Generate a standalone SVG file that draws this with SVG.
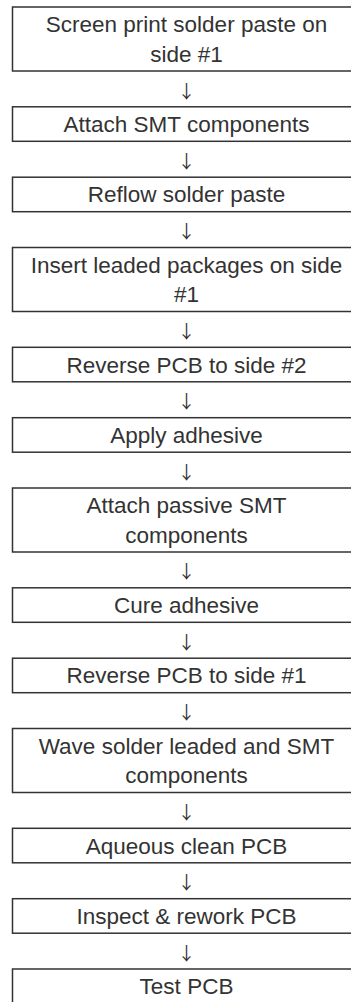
<svg xmlns="http://www.w3.org/2000/svg" width="351" height="1002" viewBox="0 0 351 1002">
<style>
.box{fill:#fff;stroke:#333;stroke-width:1.5}
.t{font-family:"Liberation Sans",Arial,sans-serif;font-size:22.5px;fill:#333;text-anchor:middle}
.a{font-family:"Noto Sans CJK SC","Liberation Sans",sans-serif;font-size:18px;fill:#333;text-anchor:middle}
</style>
<rect width="351" height="1002" fill="#fff"/>
<g id="connectors">
<text class="a" x="186.5" y="97.5">↓</text>
<text class="a" x="186.5" y="167.7">↓</text>
<text class="a" x="186.5" y="238">↓</text>
<text class="a" x="186.5" y="337.8">↓</text>
<text class="a" x="186.5" y="408.2">↓</text>
<text class="a" x="186.5" y="478.5">↓</text>
<text class="a" x="186.5" y="578.3">↓</text>
<text class="a" x="186.5" y="648.7">↓</text>
<text class="a" x="186.5" y="719">↓</text>
<text class="a" x="186.5" y="818.8">↓</text>
<text class="a" x="186.5" y="889.2">↓</text>
<text class="a" x="186.5" y="959.5">↓</text>
</g>
<g id="n1"><rect class="box" x="12.5" y="7" width="349" height="64"/><text class="t" x="186.5" y="32.3">Screen print solder paste on</text><text class="t" x="186.5" y="61.8">side #1</text></g>
<g id="n2"><rect class="box" x="12.5" y="106.8" width="349" height="34.5"/><text class="t" x="186.5" y="132">Attach SMT components</text></g>
<g id="n3"><rect class="box" x="12.5" y="177.2" width="349" height="34.5"/><text class="t" x="186.5" y="202.4">Reflow solder paste</text></g>
<g id="n4"><rect class="box" x="12.5" y="247.5" width="349" height="64"/><text class="t" x="186.5" y="272.8">Insert leaded packages on side</text><text class="t" x="186.5" y="302.3">#1</text></g>
<g id="n5"><rect class="box" x="12.5" y="347.3" width="349" height="34.5"/><text class="t" x="186.5" y="372.5">Reverse PCB to side #2</text></g>
<g id="n6"><rect class="box" x="12.5" y="417.7" width="349" height="34.5"/><text class="t" x="186.5" y="442.9">Apply adhesive</text></g>
<g id="n7"><rect class="box" x="12.5" y="488" width="349" height="64"/><text class="t" x="186.5" y="513.3">Attach passive SMT</text><text class="t" x="186.5" y="542.8">components</text></g>
<g id="n8"><rect class="box" x="12.5" y="587.8" width="349" height="34.5"/><text class="t" x="186.5" y="613">Cure adhesive</text></g>
<g id="n9"><rect class="box" x="12.5" y="658.2" width="349" height="34.5"/><text class="t" x="186.5" y="683.4">Reverse PCB to side #1</text></g>
<g id="n10"><rect class="box" x="12.5" y="728.5" width="349" height="64"/><text class="t" x="186.5" y="753.8">Wave solder leaded and SMT</text><text class="t" x="186.5" y="783.3">components</text></g>
<g id="n11"><rect class="box" x="12.5" y="828.3" width="349" height="34.5"/><text class="t" x="186.5" y="853.5">Aqueous clean PCB</text></g>
<g id="n12"><rect class="box" x="12.5" y="898.7" width="349" height="34.5"/><text class="t" x="186.5" y="923.9">Inspect &amp; rework PCB</text></g>
<g id="n13"><rect class="box" x="12.5" y="969" width="349" height="40"/><text class="t" x="186.5" y="994.2">Test PCB</text></g>
</svg>
